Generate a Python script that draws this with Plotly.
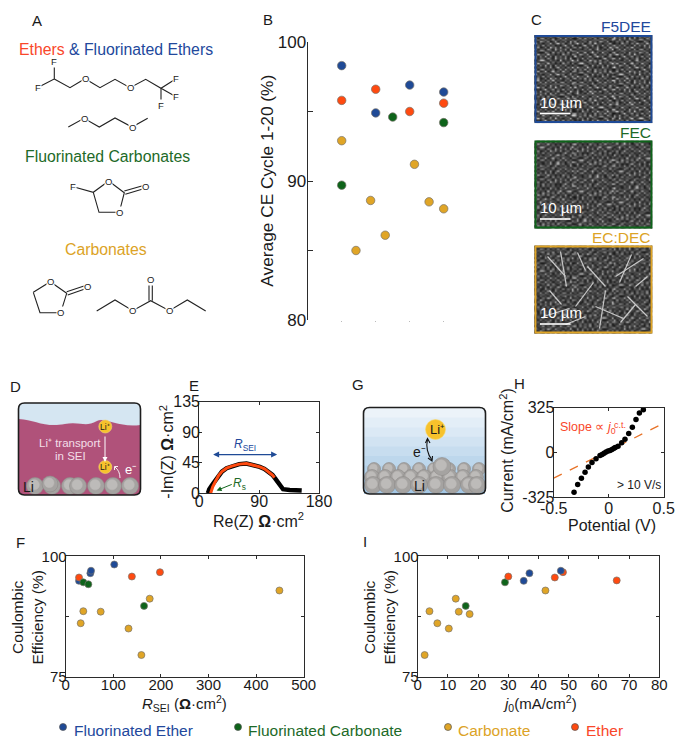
import numpy as np
import plotly.graph_objects as go

W_img, H_img = 683, 746
PAGE = 8  # the browser keeps this much white around the figure
BLUE, ORANGE, GREEN, GOLD = "#1f4a96", "#ff4a10", "#0e641a", "#e0a526"
TXT_BLUE, TXT_RED, TXT_GREEN, TXT_GOLD = "#22489c", "#f9472a", "#1d6a28", "#dca326"
DARK = "#2b2b2b"
FONT = "Liberation Sans"

# panel B, average CE
b_blue_x = [1, 2, 3, 4]
b_blue_y = [98.3, 94.9, 96.9, 96.4]
b_orange_x = [1, 2, 3, 4]
b_orange_y = [95.8, 96.6, 95.0, 95.6]
b_green_x = [1, 2.5, 4]
b_green_y = [89.7, 94.6, 94.2]
b_gold_x = [1, 1.42, 1.85, 2.28, 3.14, 3.57, 4]
b_gold_y = [92.9, 85.0, 88.6, 86.1, 91.2, 88.5, 88.0]

# panel E, impedance
e_raw_x = [13, 15, 19, 24, 29, 34, 41, 49, 60, 71, 81, 91, 98, 104, 110, 114, 118, 121, 126, 136, 154]
e_raw_y = [0, 6, 12, 19, 27, 32, 37, 40, 43, 44, 42, 39, 36, 32, 27, 22, 17, 12, 6, 5, 4]
e_fit_x = [17, 20, 24, 29, 34, 41, 49, 60, 71, 81, 91, 98, 104, 110, 113]
e_fit_y = [0, 9, 17, 26, 32, 37, 40, 43, 44, 42, 39, 36, 32, 27, 23]

# panel H, fast sweep
h_x = [-0.315, -0.282, -0.248, -0.215, -0.185, -0.152, -0.115, -0.079, -0.06, -0.042, -0.024, -0.006, 0.012,
       0.03, 0.048, 0.06, 0.085, 0.118, 0.148, 0.182, 0.215, 0.248, 0.279, 0.315]
h_y = [-288, -232, -186, -143, -106, -72, -46, -22, -14, -5, 4, 10, 14, 22, 31, 36, 46, 70, 97, 138, 184, 240, 287, 310]
h_line_x = [-0.5, 0.5]
h_line_y = [-186, 212]

# panel F, CE against R_SEI
f_blue_x = [28, 51.8, 53.2, 102]
f_blue_y = [94.9, 96.5, 97.0, 98.3]
f_orange_x = [28, 139, 198]
f_orange_y = [95.6, 95.8, 96.7]
f_green_x = [37, 47.6, 164.6]
f_green_y = [94.6, 94.2, 89.7]
f_gold_x = [37, 73.5, 31.5, 132, 159, 176.5, 449]
f_gold_y = [88.6, 88.5, 86.1, 85.0, 79.5, 91.2, 92.9]

# panel I, CE against j0
i_blue_x = [35.1, 37, 47.4]
i_blue_y = [94.9, 96.5, 97.0]
i_orange_x = [30, 45.4, 48.1, 65.9]
i_orange_y = [95.8, 95.6, 96.7, 95.0]
i_green_x = [28.9, 15.9]
i_green_y = [94.6, 89.7]
i_gold_x = [2.3, 3.9, 6.5, 10.3, 12.6, 13.6, 17.2, 42.3]
i_gold_y = [79.5, 88.6, 86.1, 85.0, 91.2, 88.5, 88.0, 92.9]

legend_names = ["Fluorinated Ether", "Fluorinated Carbonate", "Carbonate", "Ether"]

# stand-in for the SEM photographs
sem_tile = np.array([
    [ 70, 150,  90, 185,  60, 120, 200,  80, 140,  55, 170, 100, 210,  75, 130,  95],
    [180,  65, 140,  75, 165,  50, 110, 175,  70, 190,  85, 150,  60, 180,  55, 160],
    [ 95, 205,  60, 125, 210,  90, 155,  60, 205,  95, 135,  45, 165, 105, 200,  70],
    [150,  85, 175,  50, 100, 185,  65, 130,  85, 160,  60, 195,  90, 145,  65, 185],
    [ 55, 130, 105, 195,  70, 140, 215,  95, 175,  50, 120, 170,  70, 215,  90, 125],
    [190,  70, 160,  85, 150,  55, 100,  60, 135, 205,  80, 110, 185,  50, 155,  75],
    [ 85, 165,  55, 210, 110, 175,  75, 190,  65, 115, 165,  60, 130,  95, 190,  60],
    [135,  60, 185, 120,  60, 200,  95, 145, 100, 180,  55, 200,  75, 170,  70, 145],
    [200, 110,  75, 155,  90, 130,  55, 215,  70, 125,  90, 140, 215,  60, 120, 195],
    [ 60, 175, 130,  55, 195,  70, 165,  85, 160,  50, 190,  70, 105, 155,  85,  55],
    [145,  80, 210,  95, 135,  60, 120,  55, 195, 105, 145,  60, 175,  80, 205, 110],
    [ 75, 195,  65, 170,  50, 185,  90, 155,  75, 170,  65, 125,  55, 190,  65, 165],
])
# light needles over the EC:DEC photograph
needle_x = [12, 30, None, 25, 31, None, 40, 58, None, 52, 70, None, 70, 64, None, 80, 108, None, 92, 112, None,
            8, 34, None, 30, 50, None, 60, 88, None, 85, 100, None, 14, 26, None, 96, 84, None, 42, 50, None, 100, 112]
needle_y = [10, 30, None, 5, 40, None, 60, 36, None, 20, 40, None, 44, 82, None, 30, 12, None, 50, 70, None,
            70, 62, None, 78, 70, None, 60, 72, None, 76, 58, None, 44, 58, None, 8, 36, None, 6, 24, None, 40, 30]


def mosaic(t, shift):
    rows = [np.roll(t, k * shift, axis=1) for k in range(4)]
    rows = [np.roll(np.vstack([r, np.roll(r, 5, axis=0)]), s, axis=1) for r, s in zip(rows[:2], [3, 9])]
    m = np.vstack(rows)
    return np.hstack([m, np.roll(m, 7, axis=0), np.roll(m, 13, axis=0)])


def dom_x(a, b):
    return [(a - PAGE) / (W_img - PAGE), (b - PAGE) / (W_img - PAGE)]


def dom_y(top, bottom):
    return [1 - (bottom - PAGE) / (H_img - PAGE), 1 - (top - PAGE) / (H_img - PAGE)]


def line(points, color="#222", width=1.2, fill=None, close=False):
    path = "M " + " L ".join(f"{x:.1f} {y:.1f}" for x, y in points)
    if close:
        path += " Z"
    fig.add_shape(type="path", path=path, xref="x6", yref="y6", layer="above",
                  line=dict(color=color, width=width), fillcolor=fill)


def smooth(path, color, width=1.2, fill=None):
    fig.add_shape(type="path", path=path, xref="x6", yref="y6", layer="above",
                  line=dict(color=color, width=width), fillcolor=fill)


def circle(cx, cy, r, fill, edge=None, width=0.6):
    fig.add_shape(type="circle", x0=cx - r, y0=cy - r, x1=cx + r, y1=cy + r, xref="x6", yref="y6", layer="above",
                  fillcolor=fill, line=dict(color=edge if edge else fill, width=width))


def sphere(cx, cy, r):
    circle(cx, cy, r, "#a5a3a1", "#8e8c8a")
    circle(cx - r * 0.1, cy - r * 0.15, r * 0.6, "#bdbbb9")


def rounded(x0, y0, x1, y1, r):
    return (f"M {x0+r} {y0} L {x1-r} {y0} Q {x1} {y0} {x1} {y0+r} L {x1} {y1-r} Q {x1} {y1} {x1-r} {y1} "
            f"L {x0+r} {y1} Q {x0} {y1} {x0} {y1-r} L {x0} {y0+r} Q {x0} {y0} {x0+r} {y0} Z")


def txt(x, y, text, size=14, color="#1a1a1a", anchor="center", bg=None, angle=0):
    fig.add_annotation(x=x, y=y, xref="x6", yref="y6", text=text, showarrow=False, xanchor=anchor, yanchor="middle",
                       font=dict(size=size, color=color, family=FONT), bgcolor=bg, borderpad=0, textangle=angle)


def arrow(x0, y0, x1, y1, axis, color, width=1.2, both=False):
    fig.add_annotation(x=x1, y=y1, ax=x0, ay=y0, xref="x" + axis, yref="y" + axis, axref="x" + axis, ayref="y" + axis,
                       text="", showarrow=True, arrowhead=2, arrowsize=1, arrowwidth=width, arrowcolor=color,
                       arrowside="end+start" if both else "end")


def dots(xs, ys, color, axis, size=8, name=None):
    fig.add_trace(go.Scatter(x=xs, y=ys, mode="markers", xaxis="x" + axis, yaxis="y" + axis, showlegend=False,
                             marker=dict(size=size, color=color, line=dict(color="#77736c", width=0.7)),
                             hoverinfo="x+y", name=name))


def box_axis(domain, rng, tickvals, size, ticklen=3, standoff=-5):
    return dict(domain=domain, range=rng, tickvals=tickvals, ticktext=[str(v) for v in tickvals], showgrid=False,
                zeroline=False, automargin=False, showline=True, linecolor=DARK, linewidth=1.2, mirror="ticks",
                ticks="inside", ticklen=ticklen, tickwidth=1, tickcolor=DARK, ticklabelstandoff=standoff,
                tickfont=dict(size=size, color="#1a1a1a", family=FONT), fixedrange=True)


fig = go.Figure()

for xs, ys, c in [(b_blue_x, b_blue_y, BLUE), (b_orange_x, b_orange_y, ORANGE), (b_green_x, b_green_y, GREEN),
                  (b_gold_x, b_gold_y, GOLD)]:
    dots(xs, ys, c, "", 8.5)

fig.add_trace(go.Scatter(x=e_raw_x, y=e_raw_y, mode="lines", xaxis="x2", yaxis="y2", showlegend=False,
                         line=dict(color="black", width=4.5)))
fig.add_trace(go.Scatter(x=e_fit_x, y=e_fit_y, mode="lines", xaxis="x2", yaxis="y2", showlegend=False,
                         line=dict(color=ORANGE, width=3)))

fig.add_trace(go.Scatter(x=h_line_x, y=h_line_y, mode="lines", xaxis="x3", yaxis="y3", showlegend=False,
                         line=dict(color="#e8742a", width=1.3, dash="dash")))
fig.add_trace(go.Scatter(x=h_x, y=h_y, mode="markers", xaxis="x3", yaxis="y3", showlegend=False,
                         marker=dict(size=5.5, color="black")))

for xs, ys, c in [(f_blue_x, f_blue_y, BLUE), (f_orange_x, f_orange_y, ORANGE), (f_green_x, f_green_y, GREEN),
                  (f_gold_x, f_gold_y, GOLD)]:
    dots(xs, ys, c, "4", 7)
for xs, ys, c in [(i_gold_x, i_gold_y, GOLD), (i_green_x, i_green_y, GREEN), (i_orange_x, i_orange_y, ORANGE),
                  (i_blue_x, i_blue_y, BLUE)]:
    dots(xs, ys, c, "5", 7)

# SEM pictures
for top, tile, hi, shift in [(36, sem_tile, 225, 2), (141.5, sem_tile[::-1], 235, 5), (246.5, sem_tile[:, ::-1], 240, 3)]:
    z = mosaic(tile, shift)
    fig.add_trace(go.Heatmap(z=z, x0=535.5, dx=116 / (z.shape[1] - 1), y0=top, dy=86 / (z.shape[0] - 1),
                             xaxis="x6", yaxis="y6", zsmooth="best", showscale=False, zmin=45, zmax=hi,
                             hoverinfo="skip", colorscale=[[0, "#101010"], [0.55, "#5c5c5c"], [1, "#f0f0f0"]]))
fig.add_trace(go.Scatter(x=[None if v is None else v + 535.5 for v in needle_x],
                         y=[None if v is None else v + 246.5 for v in needle_y], mode="lines", xaxis="x6", yaxis="y6",
                         showlegend=False, hoverinfo="skip", line=dict(color="#c8c8c8", width=1.2)))

# legend at the foot of the page
for lx, c in zip([63, 238, 448, 575], [BLUE, GREEN, GOLD, ORANGE]):
    fig.add_trace(go.Scatter(x=[lx], y=[727], mode="markers", xaxis="x6", yaxis="y6", showlegend=False,
                             marker=dict(size=7, color=c, line=dict(color="#555", width=0.7)), hoverinfo="skip"))
for lx, name, c in zip([73, 247, 457, 585], legend_names, [TXT_BLUE, TXT_GREEN, TXT_GOLD, TXT_RED]):
    txt(lx, 730, name, 15.5, c, "left")

# panel letters
for letter, lx, ly in [("A", 37, 20), ("B", 268, 19), ("C", 536, 19), ("D", 15, 386), ("E", 194, 385), ("F", 20, 542),
                       ("G", 358, 384), ("H", 519, 383), ("I", 365, 541)]:
    txt(lx, ly, letter, 15)

# panel A, molecules
txt(18, 49, f'<span style="color:{TXT_RED}">Ethers</span> <span style="color:{TXT_BLUE}">&amp; Fluorinated Ethers</span>', 15.8, TXT_BLUE, "left")
txt(24, 156, "Fluorinated Carbonates", 15.8, TXT_GREEN, "left")
txt(106, 249, "Carbonates", 15.8, TXT_GOLD)


def mol(points, close=False):
    line([(x / 3, y / 3) for x, y in points], "#222", 1.1, close=close)


def atom(x, y, s):
    txt(x / 3, y / 3, s, 9.5, "#222", bg="white")


mol([(163, 183), (163, 237), (115, 262)])
mol([(163, 237), (210, 263), (255, 236), (300, 263), (345, 238), (390, 263), (437, 238), (483, 265), (528, 236)])
mol([(483, 265), (528, 290)])
mol([(483, 265), (483, 316)])
for x, y, s in [(163, 183, "F"), (115, 262, "F"), (255, 236, "O"), (390, 263, "O"), (528, 236, "F"), (528, 290, "F"), (483, 316, "F")]:
    atom(x, y, s)
mol([(205, 381), (252, 355), (298, 381), (345, 354), (396, 381), (443, 355)])
atom(252, 355, "O")
atom(396, 381, "O")
mol([(220, 560), (280, 577), (326, 543), (373, 578), (358, 637), (297, 637), (280, 577)])
mol([(373, 573), (436, 555)])
mol([(376, 583), (436, 565)])
for x, y, s in [(220, 560, "F"), (326, 543, "O"), (358, 637, "O"), (436, 560, "O")]:
    atom(x, y, s)
mol([(100, 877), (151, 845), (200, 880), (182, 938), (120, 938), (100, 877)])
mol([(200, 875), (261, 855)])
mol([(203, 885), (261, 865)])
atom(151, 845, "O")
atom(182, 938, "O")
atom(261, 860, "O")
mol([(290, 933), (345, 900), (398, 932), (452, 902), (508, 932), (562, 900), (617, 933)])
mol([(447, 902), (447, 838)])
mol([(457, 902), (457, 838)])
atom(398, 932, "O")
atom(508, 932, "O")
atom(452, 838, "O")

# panel C, frames and captions
for top, name, c, tc in [(36, "F5DEE", BLUE, TXT_BLUE), (141.5, "FEC", GREEN, TXT_GREEN), (246.5, "EC:DEC", GOLD, TXT_GOLD)]:
    fig.add_shape(type="rect", x0=535.5, x1=651.5, y0=top, y1=top + 86, xref="x6", yref="y6", layer="above",
                  line=dict(color=c, width=1.8))
    txt(651.5, top - 9.5, name, 15.5, tc, "right")
    line([(540, top + 77.5), (570.5, top + 77.5)], "white", 1.6)
    txt(561, top + 66, "10 µm", 15, "white")

# panel D, Li+ through the SEI
smooth(rounded(18.5, 403, 140.5, 495, 6), "#d5e6f2", 0.1, "#d5e6f2")
smooth("M 18.5 419 C 35 420 45 428 65 424 C 80 421 85 428 97 421 C 105 417 118 428 140.5 425 L 140.5 489 "
       "Q 140.5 495 134 495 L 25 495 Q 18.5 495 18.5 489 Z", "#b0527a", 0.1, "#b0527a")
for cx in [35, 52, 70, 78, 96, 113, 130]:
    sphere(cx, 486, 8.5)
sphere(50, 484, 8)
fig.add_shape(type="rect", x0=10, x1=150, y0=495, y1=500, xref="x6", yref="y6", layer="above", fillcolor="white", line=dict(width=0))
smooth(rounded(18.5, 403, 140.5, 495, 6), "#1e1e1e", 1.6)
txt(28, 487, "Li", 14)
txt(70, 443, "Li⁺ transport", 11.5, "#f4dfe8")
txt(70, 456, "in SEI", 11.5, "#f4dfe8")
arrow(105, 435, 105, 462, "6", "white", 1)
circle(105.3, 426.5, 6.5, "#f7c22c", "#f2d675")
circle(105.3, 467, 6.5, "#f7c22c", "#f2d675")
txt(105.3, 426.5, "Li⁺", 8.5)
txt(105.3, 467, "Li⁺", 8.5)
txt(130, 469, "e⁻", 13, "white")
smooth("M 120 478 Q 120 471 115 467", "white", 0.9)
line([(114.5, 470), (114.5, 466.5), (118, 466.5)], "white", 0.9)

# panel G, bare Li
bands = ["#ecf3f9", "#e3eef7", "#dbe9f5", "#d1e3f2", "#c7ddef", "#bdd7ec", "#b3d1e9", "#aacce7", "#a4c7e4"]
for k, c in enumerate(bands):
    fig.add_shape(type="rect", x0=364, x1=485, y0=408 + k * 9.6, y1=408 + (k + 1) * 9.6 + 0.5, xref="x6", yref="y6",
                  layer="above", fillcolor=c, line=dict(width=0))
for cx in range(374, 484, 15):
    sphere(cx, 469, 6.5)
for cx in range(372, 484, 13):
    sphere(cx, 477, 7.5)
for cx in [373, 387, 403, 419, 436, 452, 469, 477]:
    sphere(cx, 485, 8.5)
sphere(442, 466.5, 9)
fig.add_shape(type="rect", x0=358, x1=490, y0=494, y1=500, xref="x6", yref="y6", layer="above", fillcolor="white", line=dict(width=0))
smooth(rounded(363.5, 407.5, 485.5, 494, 6), "#1e1e1e", 1.6)
circle(435.5, 429.5, 10, "#f7c22c", "#f9d86e")
txt(437, 429.5, "Li⁺", 13)
txt(419, 452, "e⁻", 14)
smooth("M 427.5 439 Q 425 451 432 460", "#111", 1.1)
line([(425.5, 443), (427.5, 438.5), (430, 443)], "#111", 1.1)
line([(428, 458), (432, 461), (432.5, 456)], "#111", 1.1)
txt(419, 486, "Li", 14)

# axis titles
txt(266.7, 181, "Average CE Cycle 1-20 (%)", 17.3, angle=-90)
txt(258, 520, "Re(Z) <b>Ω</b>·cm<sup>2</sup>", 16)
txt(166.7, 452, "-Im(Z) <b>Ω</b>·cm<sup>2</sup>", 16, angle=-90)
txt(611.7, 525, "Potential (V)", 16)
txt(506.7, 451, "Current (mA/cm<sup>2</sup>)", 16, angle=-90)
txt(184, 703, "<i>R</i><sub>SEI</sub> (<b>Ω</b>·cm<sup>2</sup>)", 15)
txt(540, 703, "<i>j</i><sub>0</sub>(mA/cm<sup>2</sup>)", 15)
txt(26.5, 618, "Coulombic<br>Efficiency (%)", 15.5, angle=-90)
txt(378.5, 618, "Coulombic<br>Efficiency (%)", 15.5, angle=-90)

# annotations tied to the data axes
arrow(18.5, 57, 117, 57, "2", BLUE, 1.2, both=True)
fig.add_annotation(x=68, y=71, xref="x2", yref="y2", text="<i>R</i><sub>SEI</sub>", showarrow=False,
                   font=dict(size=12, color=TXT_BLUE, family=FONT))
arrow(51, 14, 26, 4, "2", GREEN, 1)
fig.add_annotation(x=61, y=13, xref="x2", yref="y2", text="<i>R</i><sub>s</sub>", showarrow=False,
                   font=dict(size=12, color=TXT_GREEN, family=FONT))
fig.add_annotation(x=-0.46, y=175, xref="x3", yref="y3", xanchor="left", text="Slope ∝ <i>j</i><sub>0</sub>",
                   showarrow=False, font=dict(size=12.5, color=TXT_RED, family=FONT))
txt(620, 425, "c.t.", 9, TXT_RED)
fig.add_annotation(x=0.49, y=-235, xref="x3", yref="y3", xanchor="right", text="&gt; 10 V/s", showarrow=False,
                   font=dict(size=12, color="#1a1a1a", family=FONT))

b_y = box_axis(dom_y(42, 320), [80, 100], [80, 90, 100], 17, 5, -3)
b_y.update(mirror=False, minor=dict(tickvals=[85, 95], ticks="inside", ticklen=5, tickcolor=DARK))
b_x = dict(domain=dom_x(307.7, 477.7), range=[0, 5], tickvals=[1, 2, 3, 4], showticklabels=False, ticks="outside",
           ticklen=1, tickwidth=1, tickcolor="#bbbbbb", showline=False, showgrid=False, zeroline=False, fixedrange=True,
           automargin=False)
f_y = box_axis(dom_y(556.3, 676.7), [75, 100], [75, 100], 15)
f_y.update(minor=dict(tickvals=[87.5], ticks="inside", ticklen=3, tickcolor=DARK))
i_y = box_axis(dom_y(556.3, 676.7), [75, 100], [75, 100], 15)
i_y.update(minor=dict(tickvals=[87.5], ticks="inside", ticklen=3, tickcolor=DARK))

fig.update_layout(
    width=W_img - PAGE, height=H_img - PAGE,
    margin=dict(l=0, r=0, t=0, b=0),
    paper_bgcolor="white", plot_bgcolor="rgba(0,0,0,0)",
    font=dict(family=FONT),
    xaxis=b_x, yaxis=b_y,
    xaxis2=box_axis(dom_x(199.3, 319), [0, 180], [0, 90, 180], 16, 3, -7),
    yaxis2=box_axis(dom_y(401.7, 493.3), [0, 135], [0, 45, 90, 135], 16),
    xaxis3=box_axis(dom_x(553.7, 663.7), [-0.5, 0.5], [-0.5, 0, 0.5], 16, 3, -4),
    yaxis3=box_axis(dom_y(407.7, 497.3), [-325, 325], [-325, 0, 325], 16),
    xaxis4=box_axis(dom_x(65.7, 303.7), [0, 500], [0, 100, 200, 300, 400, 500], 15, 3, -6),
    yaxis4=f_y,
    xaxis5=box_axis(dom_x(417.7, 659.3), [0, 80], [0, 10, 20, 30, 40, 50, 60, 70, 80], 15, 3, -6),
    yaxis5=i_y,
    xaxis6=dict(domain=[0, 1], range=[PAGE, W_img], visible=False, fixedrange=True, automargin=False),
    yaxis6=dict(domain=[0, 1], range=[H_img, PAGE], visible=False, fixedrange=True, automargin=False),
)
for ax in ["yaxis2", "yaxis3", "yaxis4", "yaxis5", "xaxis2", "xaxis3", "xaxis4", "xaxis5"]:
    fig.layout[ax].anchor = ("x" if ax.startswith("y") else "y") + ax[-1]

fig.write_html("out.html")
